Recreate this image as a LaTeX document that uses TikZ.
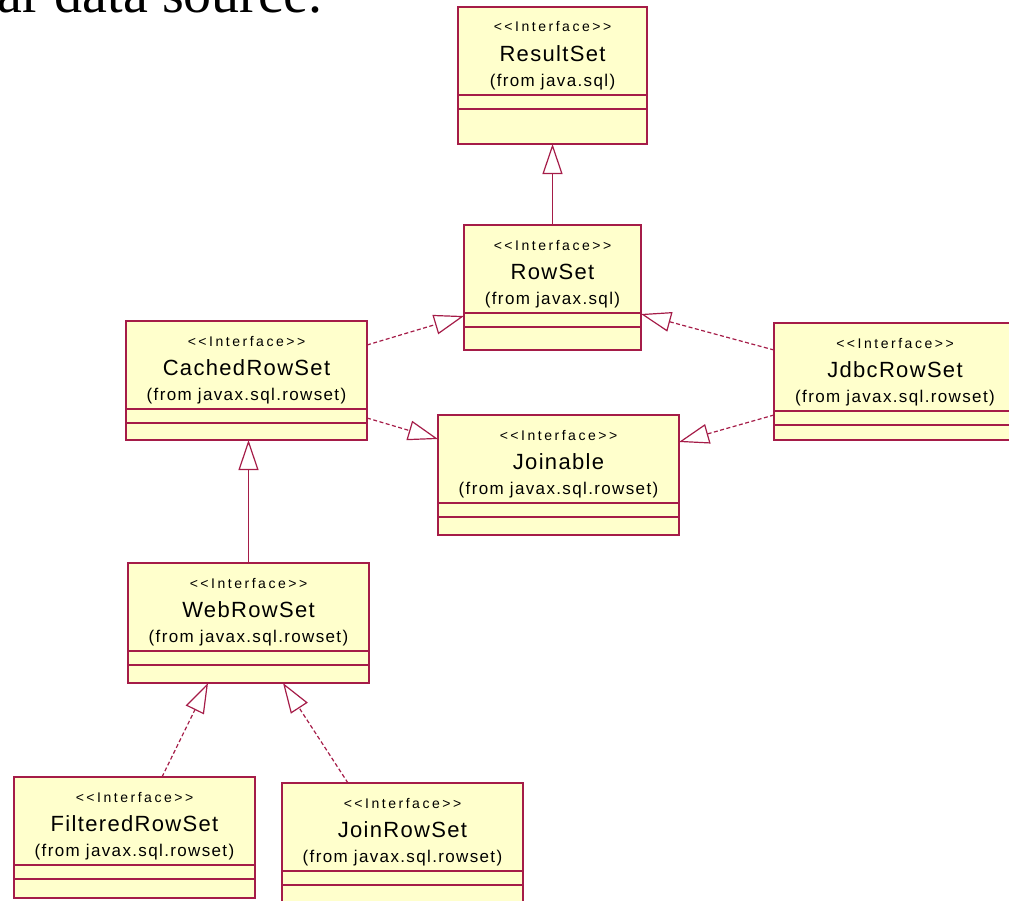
\documentclass[tikz,border=0pt]{standalone}
\usepackage{fontspec}
\newfontfamily\umlfont[Ligatures=TeXOff]{Liberation Sans}
\newfontfamily\bodyfont{Liberation Serif}
\usetikzlibrary{arrows.meta,calc}
\definecolor{umlred}{RGB}{165,28,72}
\definecolor{umlfill}{RGB}{255,255,204}
\tikzset{>={Triangle[open,length=30pt,width=20pt]},
  classbox/.style={draw=umlred,fill=umlfill,line width=1.5pt,inner sep=0pt,outer sep=0pt,anchor=north west},
  stereo/.style={font=\umlfont\fontsize{14}{16}\selectfont\addfontfeature{LetterSpace=18},inner sep=0pt},
  cname/.style={font=\umlfont\fontsize{22}{24}\selectfont\addfontfeature{LetterSpace=6},inner sep=0pt},
  pkg/.style={font=\umlfont\fontsize{17}{19}\selectfont\addfontfeature{LetterSpace=8},inner sep=0pt},
  gen/.style={->,draw=umlred,line width=1.2pt},
  real/.style={gen,dash pattern=on 4pt off 2.5pt}}

% id, corner, width, height, name, package
\newcommand{\umlclass}[6]{%
  \node[classbox,minimum width=#3,minimum height=#4] (#1) at (#2) {};
  \node[stereo] at ([yshift=-20pt]#1.north) {<<Interface>>};
  \node[cname] at ([yshift=-47pt]#1.north) {#5};
  \node[pkg] at ([yshift=-75pt]#1.north) {(from #6)};
  \draw[umlred,line width=1.5pt] ([yshift=-88pt]#1.north west) -- ([yshift=-88pt]#1.north east);
  \draw[umlred,line width=1.5pt] ([yshift=-102pt]#1.north west) -- ([yshift=-102pt]#1.north east);
}

\begin{document}
\begin{tikzpicture}[x=1pt,y=-1pt]
\useasboundingbox (0,0) rectangle (1009,900);
\node[anchor=base west,inner sep=0pt,font=\bodyfont\fontsize{56}{60}\selectfont] (lead) at (-3,12) {ar data source.};

\umlclass{resultset}{458,7}{189pt}{137pt}{ResultSet}{java.sql}
\umlclass{rowset}{464,225}{177pt}{125pt}{RowSet}{javax.sql}
\umlclass{cached}{126,321}{241pt}{119pt}{CachedRowSet}{javax.sql.rowset}
\umlclass{jdbc}{774,323}{242pt}{117pt}{JdbcRowSet}{javax.sql.rowset}
\umlclass{joinable}{438,415}{241pt}{120pt}{Joinable}{javax.sql.rowset}
\umlclass{web}{128,563}{241pt}{120pt}{WebRowSet}{javax.sql.rowset}
\umlclass{filtered}{14,777}{241pt}{121pt}{FilteredRowSet}{javax.sql.rowset}
\umlclass{joinrow}{282,783}{241pt}{130pt}{JoinRowSet}{javax.sql.rowset}

\draw[gen] (rowset.north) -- (resultset.south);
\draw[real] ([yshift=-24pt]cached.north east) -- ([yshift=-91pt]rowset.north west);
\draw[real] ([yshift=-97pt]cached.north east) -- ([yshift=-24pt]joinable.north west);
\draw[real] ([yshift=-27pt]jdbc.north west) -- ([yshift=-89pt]rowset.north east);
\draw[real] ([yshift=-92pt]jdbc.north west) -- ([yshift=-27pt]joinable.north east);
\draw[gen] (web.north) -- (web.north |- cached.south);
\draw[real] ([xshift=148pt]filtered.north west) -- ([xshift=80pt]web.south west);
\draw[real] ([xshift=66pt]joinrow.north west) -- ([xshift=155pt]web.south west);
\end{tikzpicture}
\end{document}
